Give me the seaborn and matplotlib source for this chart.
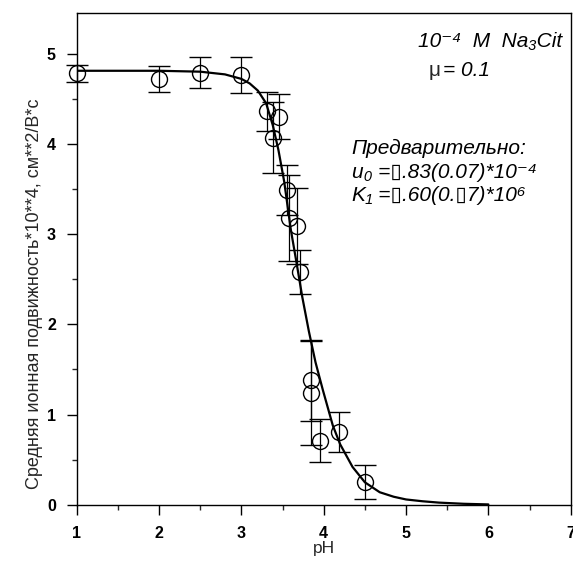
import matplotlib
matplotlib.use("Agg")
import matplotlib.pyplot as plt
import seaborn as sns
import pandas as pd

# измеренные точки (pH, подвижность, погрешность)
ph_pts = [1.0, 2.0, 2.5, 3.0, 3.31, 3.46, 3.38, 3.55, 3.58, 3.67, 3.71,
          3.85, 3.85, 3.95, 4.19, 4.50]
mob_pts = [4.78, 4.72, 4.79, 4.76, 4.36, 4.30, 4.07, 3.49, 3.18, 3.09, 2.58,
           1.38, 1.24, 0.71, 0.81, 0.25]
err_pts = [0.09, 0.14, 0.17, 0.20, 0.22, 0.25, 0.39, 0.28, 0.48, 0.42, 0.24,
           0.45, 0.58, 0.24, 0.22, 0.19]

# расчётная кривая
ph_fit = [1.0, 1.5, 2.0, 2.5, 2.8, 3.0, 3.1, 3.2, 3.3, 3.38, 3.45, 3.52,
          3.6, 3.67, 3.74, 3.82, 3.9, 3.99, 4.11, 4.2, 4.35, 4.5, 4.68,
          4.85, 5.0, 5.2, 5.4, 5.7, 6.0]
mob_fit = [4.81, 4.81, 4.81, 4.80, 4.77, 4.72, 4.67, 4.59, 4.45, 4.21, 3.93,
           3.58, 3.05, 2.68, 2.30, 1.92, 1.58, 1.27, 0.88, 0.67, 0.42, 0.25,
           0.14, 0.09, 0.06, 0.04, 0.025, 0.012, 0.005]

sns.set_style("ticks")
plt.rcParams["font.family"] = ["Liberation Sans", "DejaVu Sans"]

fig = plt.figure(figsize=(5.73, 5.66), dpi=100)
ax = fig.add_axes([0.134, 0.108, 0.862, 0.869])

fit = pd.DataFrame({"pH": ph_fit, "u": mob_fit})
sns.lineplot(data=fit, x="pH", y="u", ax=ax, color="black", lw=1.6)

eb = ax.errorbar(ph_pts, mob_pts, yerr=err_pts, fmt="o", mfc="none",
                 mec="black", ms=11.5, mew=1.0, ecolor="black",
                 elinewidth=0.9, capsize=8, capthick=0.9, zorder=3)
for art in eb.lines[0:1] + tuple(eb.lines[1]) + tuple(eb.lines[2]):
    art.set_clip_on(False)

ax.set_xlim(1, 7)
ax.set_ylim(0, 5.45)
ax.set_xticks(range(1, 8))
ax.set_xticks([1.5, 2.5, 3.5, 4.5, 5.5, 6.5], minor=True)
ax.set_yticks(range(0, 6))
ax.set_yticks([0.5, 1.5, 2.5, 3.5, 4.5], minor=True)
ax.tick_params(which="major", direction="out", length=7, width=1,
               labelsize=11.5, pad=8, colors="black")
ax.tick_params(which="minor", direction="out", length=3.5, width=1)
for lab in ax.get_xticklabels() + ax.get_yticklabels():
    lab.set_fontweight("bold")
for sp in ax.spines.values():
    sp.set_visible(True)
    sp.set_linewidth(1.0)
    sp.set_color("black")

ax.set_xlabel("pH", fontsize=12.5, labelpad=0)
ax.set_ylabel("Средняя ионная подвижность*10**4, см**2/В*с", fontsize=13)
ax.yaxis.set_label_coords(-0.069, 0.43)

tkw = dict(fontsize=15, style="italic", color="black", va="center",
           family=["Liberation Sans", "DejaVu Sans"])
ax.text(6.89, 5.13, "10⁻⁴  M  Na₃Cit", ha="right", **tkw)
ax.text(5.27, 4.81, "μ", ha="left", fontsize=15, va="center")
ax.text(5.45, 4.81, "= 0.1", ha="left", **tkw)
ax.text(4.34, 3.95, "Предварительно:", ha="left", **tkw)
ax.text(4.34, 3.68, "u₀ =▯.83(0.07)*10⁻⁴", ha="left", **tkw)
ax.text(4.34, 3.43, "K₁ =▯.60(0.▯7)*10⁶", ha="left", **tkw)

fig.savefig("out.png", dpi=100)
